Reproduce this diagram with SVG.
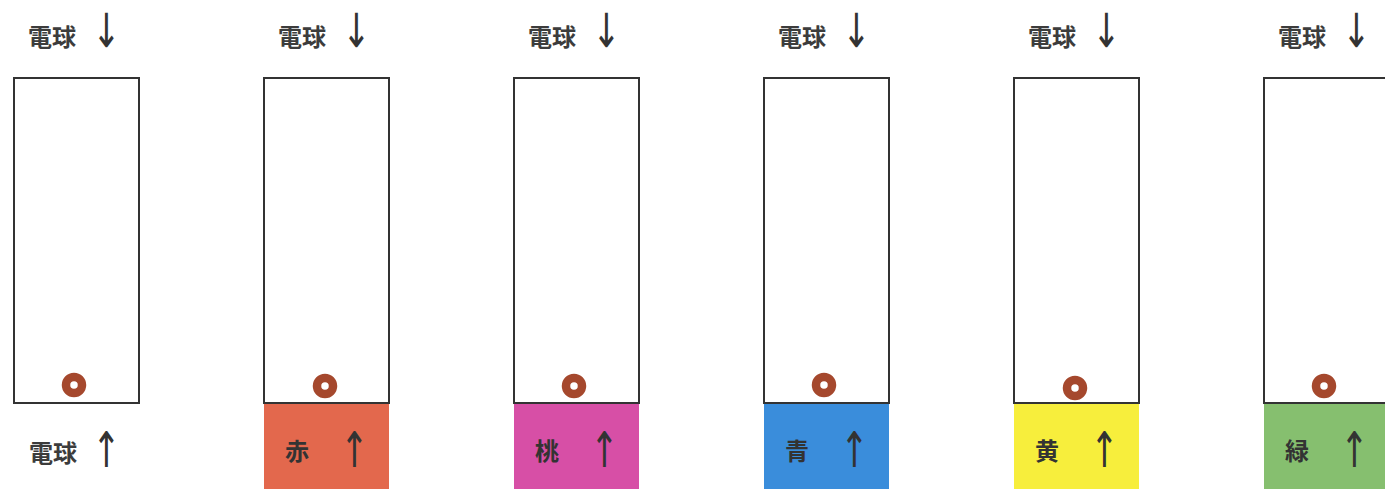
<svg xmlns="http://www.w3.org/2000/svg" width="1385" height="489" viewBox="0 0 1385 489">
<defs>
<style>
.box{fill:#fff;stroke:#333;stroke-width:2}
.lbl{font-family:"Noto Sans CJK JP","Noto Sans CJK SC",sans-serif;font-weight:bold;font-size:24px;fill:#3c3c3c}
.clbl{font-family:"Noto Sans CJK JP","Noto Sans CJK SC",sans-serif;font-weight:bold;font-size:24px;fill:#333}
.arr{font-family:"DejaVu Sans","Noto Sans CJK JP",sans-serif;font-size:34px;fill:#333}
.bead{fill:none;stroke:#a5482d;stroke-width:8.5}
</style>
</defs>
<rect width="1385" height="489" fill="#fff"/>
<g id="col1">
<text class="lbl" x="28" y="46">電球</text><text class="arr" transform="translate(92,47) scale(1,1.38)">↓</text>
<rect class="box" x="14" y="78" width="125" height="325"/>
<circle class="bead" cx="74" cy="385" r="8"/>
<text class="lbl" x="29" y="462">電球</text><text class="arr" transform="translate(92,467) scale(1,1.45)">↑</text>
</g>
<g id="col2">
<text class="lbl" x="278" y="46">電球</text><text class="arr" transform="translate(342,47) scale(1,1.38)">↓</text>
<rect x="264" y="403" width="125" height="86" fill="#e3684d"/>
<rect class="box" x="264" y="78" width="125" height="325"/>
<circle class="bead" cx="325" cy="386" r="8"/>
<text class="clbl" x="285" y="460">赤</text><text class="arr" transform="translate(340,467) scale(1,1.45)">↑</text>
</g>
<g id="col3">
<text class="lbl" x="528" y="46">電球</text><text class="arr" transform="translate(592,47) scale(1,1.38)">↓</text>
<rect x="514" y="403" width="125" height="86" fill="#d74fa6"/>
<rect class="box" x="514" y="78" width="125" height="325"/>
<circle class="bead" cx="574" cy="386" r="8"/>
<text class="clbl" x="535" y="460">桃</text><text class="arr" transform="translate(590,467) scale(1,1.45)">↑</text>
</g>
<g id="col4">
<text class="lbl" x="778" y="46">電球</text><text class="arr" transform="translate(842,47) scale(1,1.38)">↓</text>
<rect x="764" y="403" width="125" height="86" fill="#3a8ddb"/>
<rect class="box" x="764" y="78" width="125" height="325"/>
<circle class="bead" cx="824" cy="385" r="8"/>
<text class="clbl" x="785" y="460">青</text><text class="arr" transform="translate(840,467) scale(1,1.45)">↑</text>
</g>
<g id="col5">
<text class="lbl" x="1028" y="46">電球</text><text class="arr" transform="translate(1092,47) scale(1,1.38)">↓</text>
<rect x="1014" y="403" width="125" height="86" fill="#f7ee3c"/>
<rect class="box" x="1014" y="78" width="125" height="325"/>
<circle class="bead" cx="1075" cy="388" r="8"/>
<text class="clbl" x="1035" y="460">黄</text><text class="arr" transform="translate(1090,467) scale(1,1.45)">↑</text>
</g>
<g id="col6">
<text class="lbl" x="1278" y="46">電球</text><text class="arr" transform="translate(1342,47) scale(1,1.38)">↓</text>
<rect x="1264" y="403" width="125" height="86" fill="#86bf6f"/>
<rect class="box" x="1264" y="78" width="125" height="325"/>
<circle class="bead" cx="1324" cy="386" r="8"/>
<text class="clbl" x="1285" y="460">緑</text><text class="arr" transform="translate(1340,467) scale(1,1.45)">↑</text>
</g>
</svg>
